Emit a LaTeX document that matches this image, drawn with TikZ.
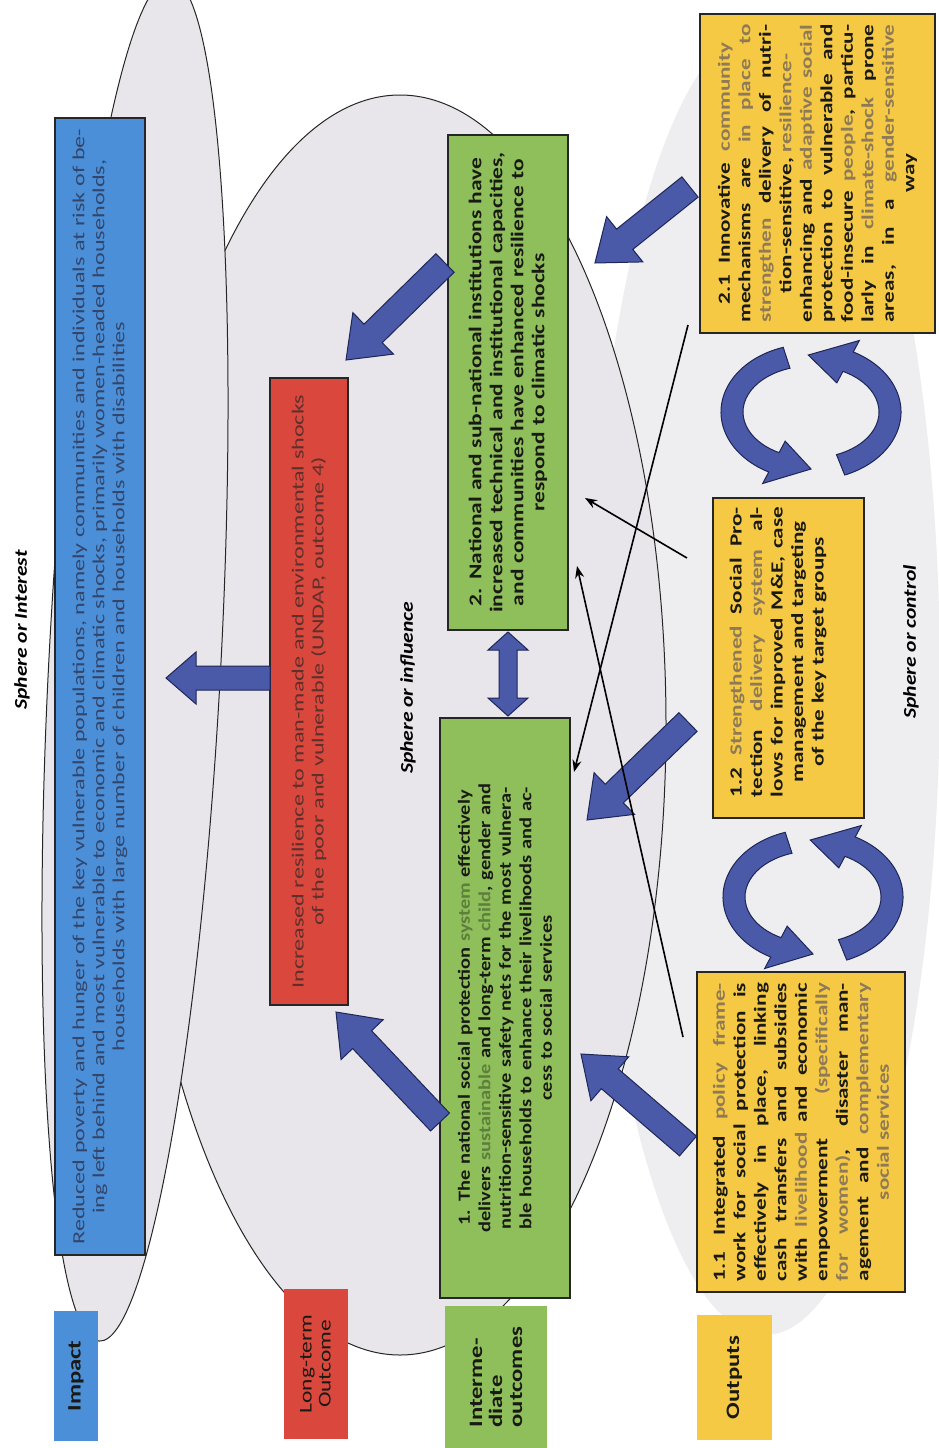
\documentclass[tikz,border=0pt]{standalone}
\usepackage{fontspec}
\setmainfont{Carlito}
\newfontfamily\bxf[FakeStretch=1.2]{Carlito}
\newfontfamily\bxfm[FakeStretch=1.3]{Carlito}
\newfontfamily\bxfy[FakeStretch=1.36]{Carlito}
\newfontfamily\bxfw[FakeStretch=1.42]{Carlito}
\usetikzlibrary{calc,arrows.meta}
\definecolor{cblue}{HTML}{4A8FD8}
\definecolor{cred}{HTML}{D9473D}
\definecolor{cgreen}{HTML}{8EBF5B}
\definecolor{cyellow}{HTML}{F6C945}
\definecolor{cellip}{HTML}{E8E6EB}
\definecolor{cctrl}{HTML}{EEEDEF}
\definecolor{carrow}{HTML}{4A5AA8}
\definecolor{carrowdk}{HTML}{1E2557}
\definecolor{tglt}{HTML}{5E7F3C}
\definecolor{tylt}{HTML}{8E7A55}
\definecolor{tblue}{HTML}{33456A}
\definecolor{tred}{HTML}{5E2F2B}
\definecolor{tdark}{HTML}{1A1A14}
\newcommand\lgw[1]{\textcolor{tglt}{#1}}
\newcommand\lyw[1]{\textcolor{tylt}{#1}}
\newcommand\fulw[2][298pt]{\leavevmode\hbox to #1{\spaceskip=0.26em plus 1fil minus 0.1em\relax #2}}
\tikzset{
  every node/.style={inner sep=0pt, outer sep=0pt},
  boxstyle/.style={draw=black!85, line width=1.6pt, rotate=90, align=center, text=tdark,
    font=\bxf\bfseries\fontsize{17}{20.5}\selectfont},
  ystyle/.style={boxstyle, fill=cyellow, font=\bxfy\bfseries\fontsize{17}{20.5}\selectfont},
  boxtext/.style={rotate=90, align=center, text=tdark, font=\bxfy\bfseries\fontsize{17}{20.5}\selectfont},
  labbox/.style={rotate=90, text=tdark, font=\bxfm\bfseries\fontsize{19}{20}\selectfont},
  blockarrow/.style={fill=carrow, draw=carrowdk, line width=1pt, line join=miter},
  thinarrow/.style={draw=black, line width=1.6pt, -{Stealth[length=12pt,width=9pt]}},
  sphere/.style={rotate=90, text=black, font=\bxf\bfseries\itshape\fontsize{18}{20}\selectfont},
}
\newcommand\blkarrow[5]{%
  \coordinate (ba-n) at ($(#2)!#5!(#1)$);
  \draw[blockarrow] ($(#1)!#3!90:(#2)$) -- ($(ba-n)!#3!-90:(#1)$) -- ($(ba-n)!#4!-90:(#1)$)
    -- (#2) -- ($(ba-n)!#4!90:(#1)$) -- ($(ba-n)!#3!90:(#1)$) -- ($(#1)!#3!-90:(#2)$) -- cycle;}
\newcommand\dblarrow[5]{%
  \coordinate (da-a) at ($(#1)!#5!(#2)$);
  \coordinate (da-b) at ($(#2)!#5!(#1)$);
  \draw[blockarrow] (#1) -- ($(da-a)!#4!90:(#2)$) -- ($(da-a)!#3!90:(#2)$) -- ($(da-b)!#3!-90:(#1)$)
    -- ($(da-b)!#4!-90:(#1)$) -- (#2) -- ($(da-b)!#4!90:(#1)$) -- ($(da-b)!#3!90:(#1)$)
    -- ($(da-a)!#3!-90:(#2)$) -- ($(da-a)!#4!-90:(#2)$) -- cycle;}
% #1 centre, #2 start angle, #3 end angle, #4 tip angle
\newcommand\curvarrow[4]{%
  \draw[blockarrow] ($(#1)+(#2:90 and 68)$) arc[start angle=#2, end angle=#3, x radius=90, y radius=68]
    -- ($(#1)+(#3:103 and 81)$) -- ($(#1)+(#4:79 and 57)$) -- ($(#1)+(#3:55 and 33)$) -- ($(#1)+(#3:68 and 46)$)
    arc[start angle=#3, end angle=#2, x radius=68, y radius=46] -- cycle;}
\begin{document}
\begin{tikzpicture}[x=1pt,y=-1pt]
\useasboundingbox (0,0) rectangle (939,1448);
\fill[white] (0,0) rectangle (939,1448);
% spheres
\fill[cctrl] (765,680) ellipse [x radius=175, y radius=655];
\filldraw[fill=cellip, draw=black!85, line width=1pt] (400,725) ellipse [x radius=266, y radius=630];
\filldraw[fill=cellip, draw=black!85, line width=1pt, rotate around={-3:(135,660)}] (135,660) ellipse [x radius=86, y radius=682];

% level labels
\node[labbox, fill=cblue, minimum width=130, minimum height=44] (limpact) at (76,1376) {Impact};
\node[labbox, fill=cred, minimum width=150, minimum height=64, align=center, font=\bxfm\fontsize{18}{19}\selectfont] (llong) at (315.5,1364) {Long-term\\Outcome};
\node[labbox, fill=cgreen, minimum width=143, minimum height=102, align=left] (linter) at (496,1377) {Interme-\\diate\\outcomes};
\node[labbox, fill=cyellow, minimum width=125, minimum height=75] (lout) at (734.5,1377.5) {Outputs};

% sphere titles
\node[sphere] (sint) at (22,630) {Sphere or Interest};
\node[sphere] (sinf) at (408,688) {Sphere or influence};
\node[sphere] (sctl) at (911,642) {Sphere or control};

% main boxes
\node[boxstyle, fill=cblue, text=tblue, font=\bxfw\fontsize{17}{20}\selectfont, minimum width=1137, minimum height=90, text width=1120] (impact) at (100,686.5)
{Reduced poverty and hunger of the key vulnerable populations, namely communities and individuals at risk of be-\\ing left behind and most vulnerable to economic and climatic shocks, primarily women-headed households,\\households with large number of children and households with disabilities};
\node[boxstyle, fill=cred, text=tred, font=\bxfw\fontsize{17}{20}\selectfont, minimum width=627, minimum height=78, text width=610] (longterm) at (309,691.5)
{Increased resilience to man-made and environmental shocks\\of the poor and vulnerable (UNDAP, outcome 4)};
\node[boxstyle, fill=cgreen, font=\bxfm\bfseries\fontsize{18}{21}\selectfont, minimum width=495, minimum height=120, text width=480] (out2) at (508,382.5)
{2. National and sub-national institutions have\\increased technical and institutional capacities,\\and communities have enhanced resilience to\\respond to climatic shocks};
\node[boxstyle, fill=cgreen, minimum width=580, minimum height=130, text width=560] (out1) at (505,1008)
{1. The national social protection \lgw{system} effectively\\delivers \lgw{sustainable} and long-term \lgw{child}, gender and\\nutrition-sensitive safety nets for the most vulnera-\\ble households to enhance their livelihoods and ac-\\cess to social services};
\node[ystyle, minimum width=320, minimum height=208, text width=300] (o11) at (801,1132)
{\fulw{1.1 Integrated \lyw{policy frame-}}\\\fulw{work for social protection is}\\\fulw{effectively in place, linking}\\\fulw{cash transfers and subsidies}\\\fulw{with \lyw{livelihood} and economic}\\\fulw{empowerment \lyw{(specifically}}\\\fulw{\lyw{for women)}, disaster man-}\\\fulw{agement and \lyw{complementary}}\\\lyw{social services}};
\node[ystyle, minimum width=320, minimum height=151] (o12) at (788.5,658) {};
\node[boxtext, text width=292] (o12t) at (778,652)
{\fulw[290pt]{1.2 \lyw{Strengthened} Social Pro-}\\\fulw[290pt]{tection \lyw{delivery system} al-}\\\fulw[290pt]{lows for improved M\&E, case}\\management and targeting\\of the key target groups};
\node[ystyle, minimum width=319, minimum height=235, text width=300] (o21) at (817.5,173.5)
{\fulw[262pt]{2.1 Innovative \lyw{community}}\\\fulw{mechanisms are \lyw{in place to}}\\\fulw{\lyw{strengthen} delivery of nutri-}\\tion-sensitive, \lyw{resilience-}\\\fulw{enhancing and \lyw{adaptive social}}\\\fulw{protection to vulnerable and}\\\fulw{food-insecure \lyw{people}, particu-}\\\fulw{larly in \lyw{climate-shock} prone}\\\fulw{areas, in a \lyw{gender-sensitive}}\\way};

% block arrows
\coordinate (ri-t) at (270,678); \coordinate (ri-h) at (166,678);
\blkarrow{ri-t}{ri-h}{12pt}{26pt}{30pt}
\coordinate (g2r-t) at (445,263); \coordinate (g2r-h) at (346,360);
\blkarrow{g2r-t}{g2r-h}{13pt}{29pt}{38pt}
\coordinate (g1r-t) at (440,1122); \coordinate (g1r-h) at (336,1012);
\blkarrow{g1r-t}{g1r-h}{13pt}{29pt}{38pt}
\coordinate (a21-t) at (690,187); \coordinate (a21-h) at (595,263);
\blkarrow{a21-t}{a21-h}{13pt}{29pt}{38pt}
\coordinate (a12-t) at (688,722); \coordinate (a12-h) at (587,820);
\blkarrow{a12-t}{a12-h}{13pt}{29pt}{38pt}
\coordinate (a11-t) at (688,1146); \coordinate (a11-h) at (581,1054);
\blkarrow{a11-t}{a11-h}{13pt}{29pt}{38pt}
\coordinate (d-a) at (508,632); \coordinate (d-b) at (508,716);
\dblarrow{d-a}{d-b}{9pt}{20pt}{18pt}

% curved arrows between outputs
\coordinate (cA) at (811,412);
\curvarrow{cA}{252}{118}{90}
\curvarrow{cA}{68}{-62}{-92}
\coordinate (cB) at (813,897);
\curvarrow{cB}{252}{118}{90}
\curvarrow{cB}{68}{-62}{-92}

% thin arrows
\coordinate (t1s) at (688,325); \coordinate (t1e) at (574,772);
\coordinate (t2s) at (683,1037); \coordinate (t2e) at (577,566);
\coordinate (t3s) at (687,558); \coordinate (t3e) at (585,498);
\draw[thinarrow] (t1s) -- (t1e);
\draw[thinarrow] (t2s) -- (t2e);
\draw[thinarrow] (t3s) -- (t3e);
\end{tikzpicture}
\end{document}
